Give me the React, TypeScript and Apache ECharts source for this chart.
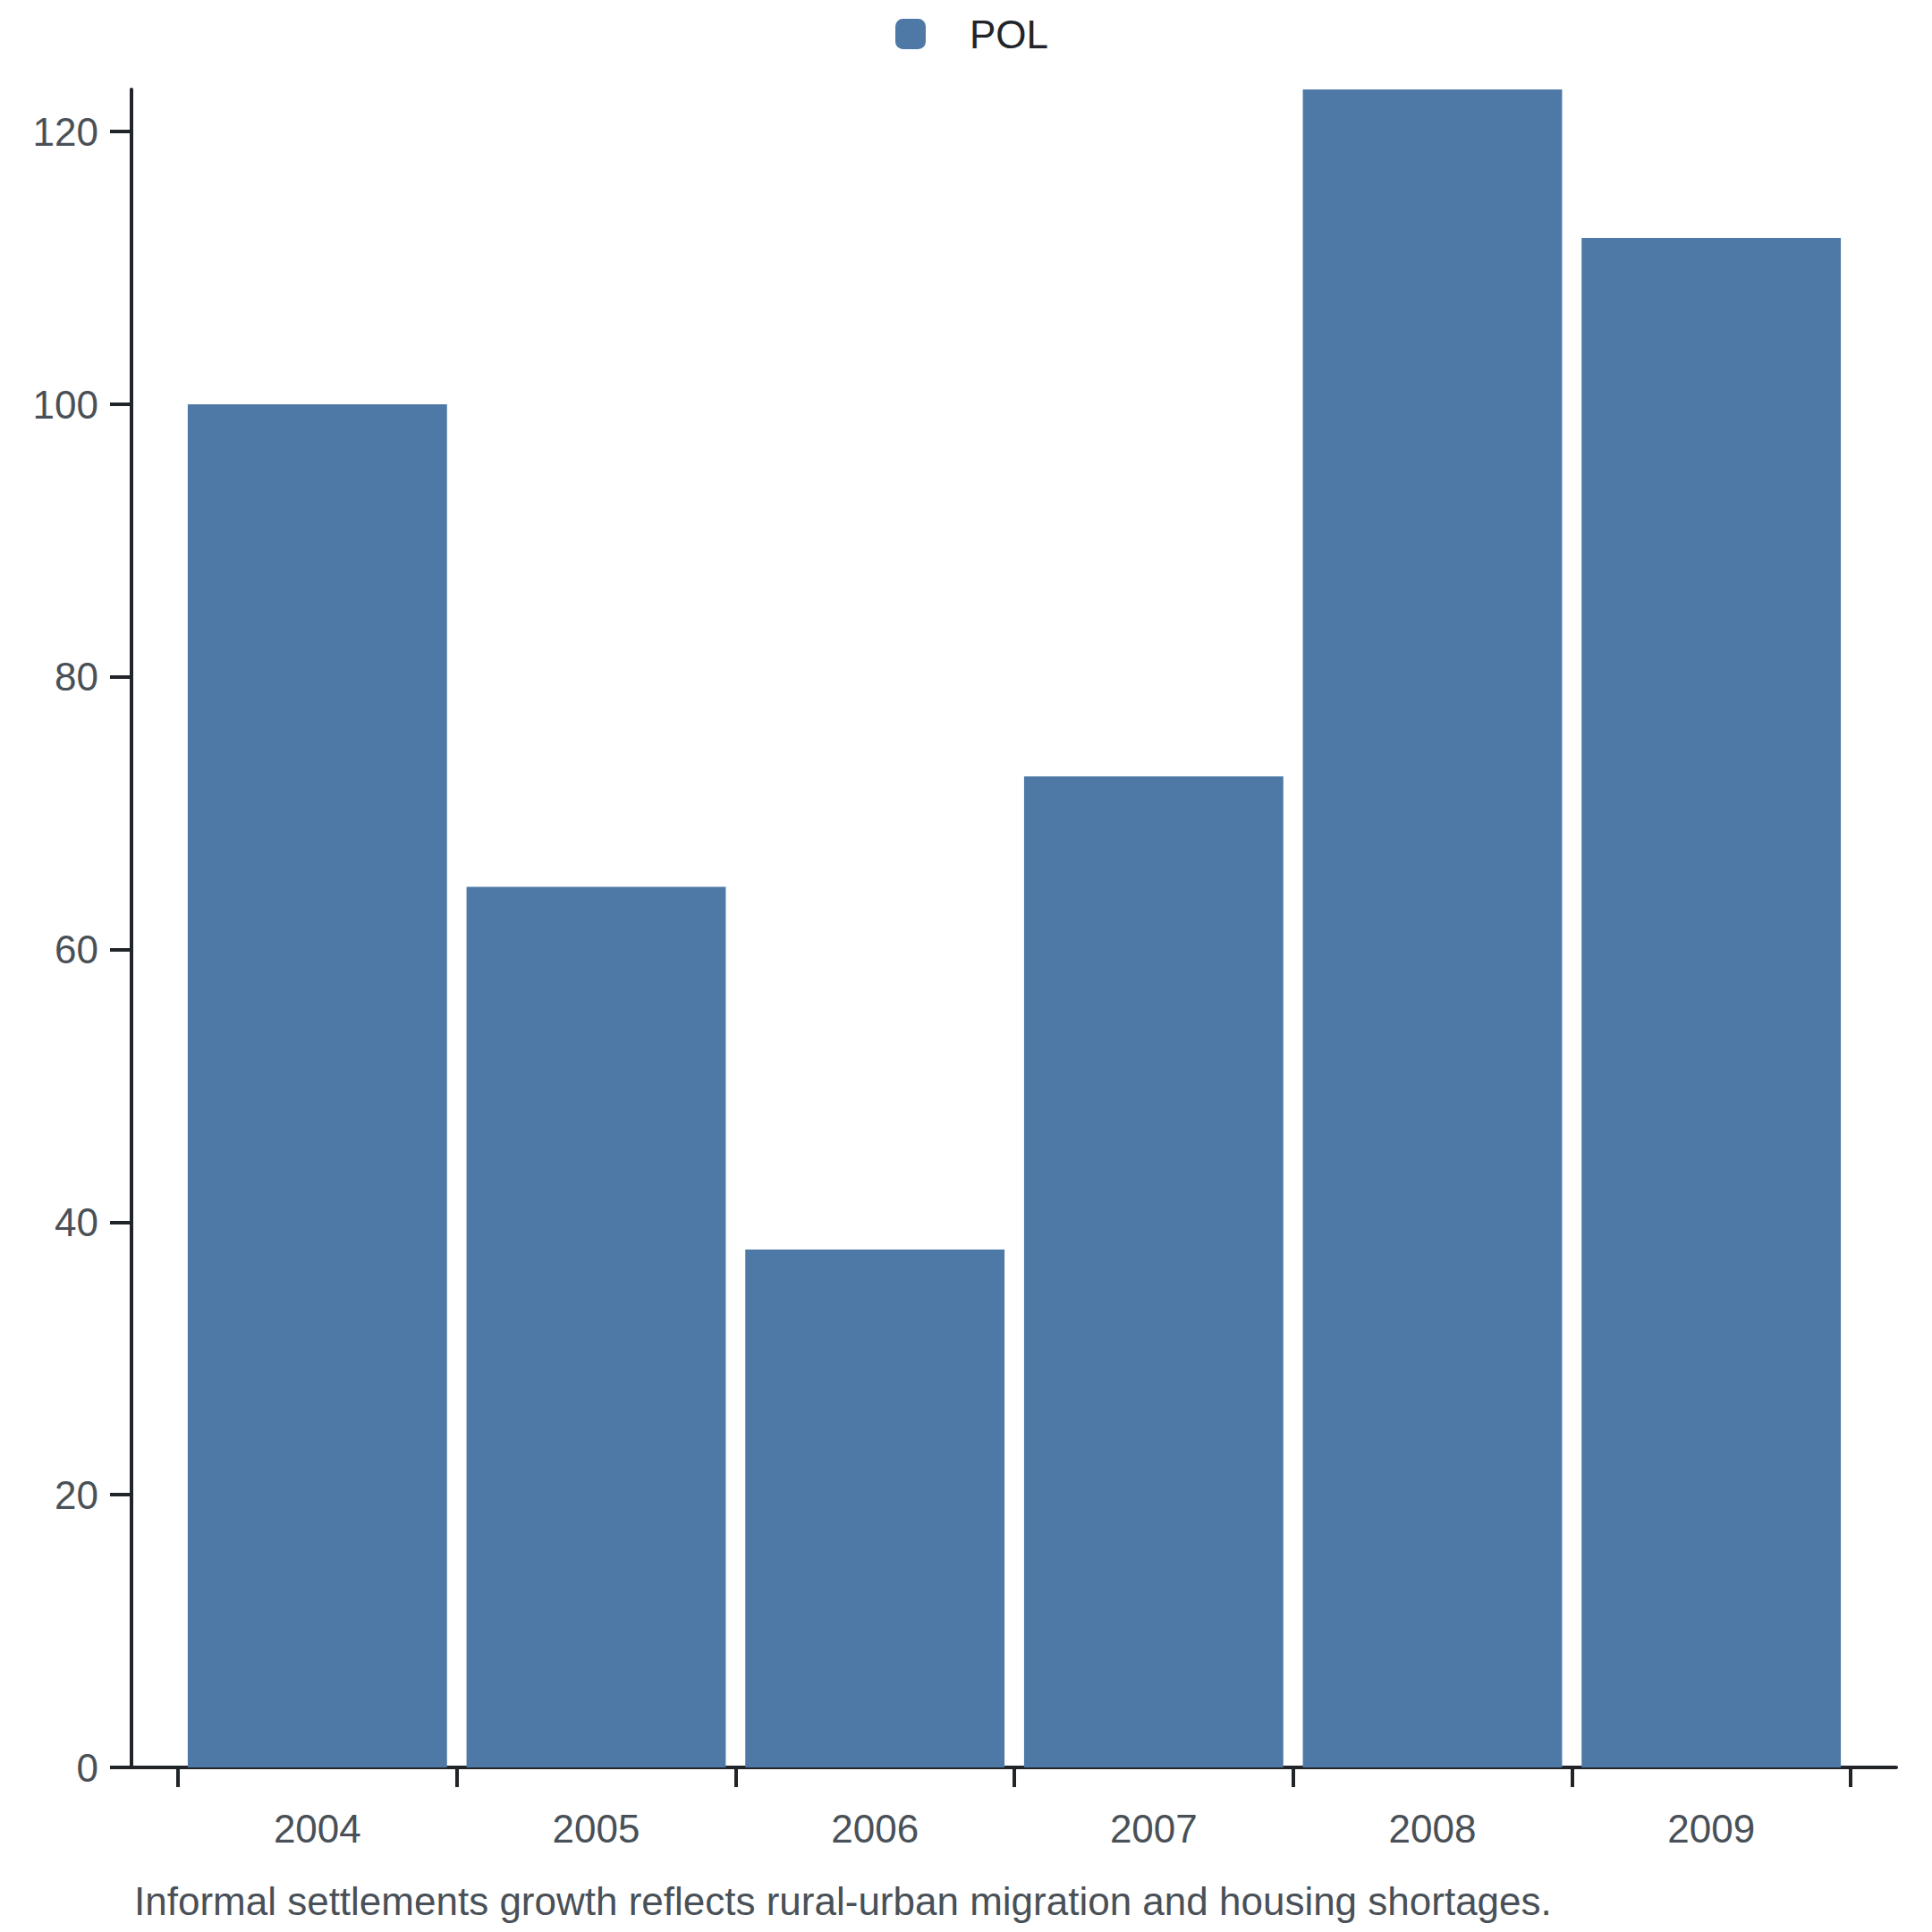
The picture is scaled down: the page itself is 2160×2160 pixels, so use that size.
import React, { useEffect, useRef } from 'react';
import * as echarts from 'echarts';

// chart data
const years = ['2004', '2005', '2006', '2007', '2008', '2009'];
const polValues = [100, 64.6, 38.0, 72.7, 123.1, 112.2];
const yTicks = [0, 20, 40, 60, 80, 100, 120];
const seriesName = 'POL';
const caption = 'Informal settlements growth reflects rural-urban migration and housing shortages.';

const FONT = '"Liberation Sans", Arial, sans-serif';
const AXIS_COLOR = '#212529';
const LABEL_COLOR = '#495057';
const BAR_COLOR = '#4e79a7';

const App = () => {
  const chartRef = useRef(null);

  useEffect(() => {
    document.body.style.margin = '0';
    const myChart = echarts.init(chartRef.current, null, { renderer: 'svg' });

    const option = {
      animation: false,
      textStyle: { fontFamily: FONT },
      legend: {
        data: [seriesName],
        left: 996,
        top: 11,
        icon: 'roundRect',
        itemWidth: 34,
        itemHeight: 34,
        textStyle: { fontSize: 44, color: '#212529', fontFamily: FONT, padding: [0, 0, 0, 44] },
      },
      grid: [
        { left: 199, right: 91, top: 100, bottom: 184 },
        { left: 147, right: 40, top: 100, bottom: 184 },
      ],
      xAxis: [
        {
          type: 'category',
          data: years,
          gridIndex: 0,
          axisLine: { show: false },
          axisTick: { show: true, length: 22, lineStyle: { color: AXIS_COLOR, width: 4 } },
          axisLabel: { fontSize: 44, color: LABEL_COLOR, margin: 46, fontFamily: FONT },
          splitLine: { show: false },
        },
        {
          type: 'value',
          gridIndex: 1,
          min: 0,
          max: 1,
          axisLine: { show: true, onZero: false, lineStyle: { color: AXIS_COLOR, width: 4 } },
          axisTick: { show: false },
          axisLabel: { show: false },
          splitLine: { show: false },
        },
      ],
      yAxis: [
        {
          type: 'value',
          gridIndex: 0,
          min: 0,
          max: 'dataMax',
          offset: 52,
          axisLine: { show: true, lineStyle: { color: AXIS_COLOR, width: 4 } },
          axisTick: { show: true, length: 24, customValues: yTicks, lineStyle: { color: AXIS_COLOR, width: 4 } },
          axisLabel: { fontSize: 44, color: LABEL_COLOR, margin: 37, fontFamily: FONT, customValues: yTicks },
          splitLine: { show: false },
        },
        {
          type: 'value',
          gridIndex: 1,
          show: false,
        },
      ],
      graphic: [
        {
          type: 'text',
          left: 150,
          top: 2103,
          style: { text: caption, fontSize: 44, fill: LABEL_COLOR, fontFamily: FONT },
        },
      ],
      series: [
        {
          name: seriesName,
          type: 'bar',
          xAxisIndex: 0,
          yAxisIndex: 0,
          data: polValues,
          barCategoryGap: '7%',
          itemStyle: { color: BAR_COLOR },
        },
      ],
    };

    myChart.setOption(option);

    return () => {
      myChart.dispose();
    };
  }, []);

  return <div ref={chartRef} style={{ width: '2160px', height: '2160px' }} />;
};

export default App;
